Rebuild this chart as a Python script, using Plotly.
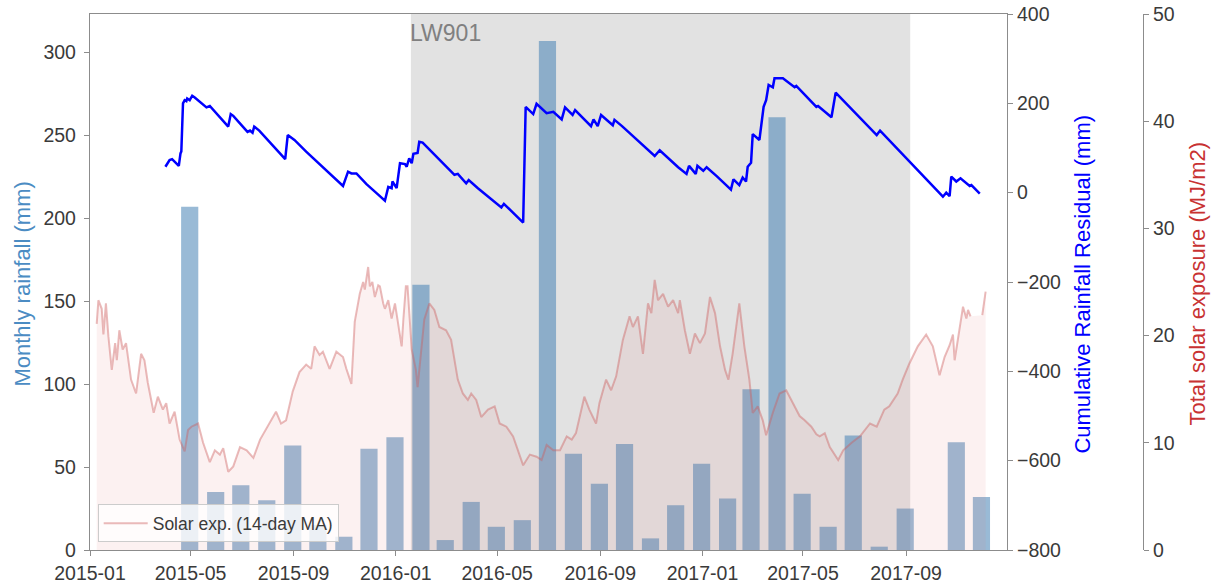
import plotly.graph_objects as go

# ---------------- data ----------------
rain_dates = [
    "2015-04-30", "2015-05-31", "2015-06-30", "2015-07-31", "2015-08-31", "2015-09-30",
    "2015-10-31", "2015-11-30", "2015-12-31", "2016-01-31", "2016-02-29", "2016-03-31",
    "2016-04-30", "2016-05-31", "2016-06-30", "2016-07-31", "2016-08-31", "2016-09-30",
    "2016-10-31", "2016-11-30", "2016-12-31", "2017-01-31", "2017-02-28", "2017-03-31",
    "2017-04-30", "2017-05-31", "2017-06-30", "2017-07-31", "2017-08-31", "2017-09-30",
    "2017-10-31", "2017-11-30",
]
rain_mm = [
    207, 35, 39, 30, 63, 15,
    8, 61, 68, 160, 6, 29,
    14, 18, 307, 58, 40, 64,
    7, 27, 52, 31, 97, 261,
    34, 14, 69, 2, 25, 0,
    65, 32,
]

resid_dates = [
    "2015-04-01", "2015-04-06", "2015-04-09", "2015-04-14", "2015-04-17", "2015-04-19",
    "2015-04-20", "2015-04-22", "2015-04-24", "2015-04-26", "2015-04-27", "2015-04-30",
    "2015-05-03", "2015-05-06", "2015-05-20", "2015-05-24", "2015-06-15", "2015-06-18",
    "2015-06-21", "2015-07-08", "2015-07-11", "2015-07-14", "2015-07-16", "2015-07-22",
    "2015-08-22", "2015-08-25", "2015-09-02", "2015-09-16", "2015-09-26", "2015-10-30",
    "2015-11-05", "2015-11-09", "2015-11-15", "2015-11-27", "2015-12-09", "2015-12-19",
    "2015-12-23", "2015-12-27", "2015-12-28", "2016-01-02", "2016-01-06", "2016-01-12",
    "2016-01-14", "2016-01-17", "2016-01-20", "2016-01-22", "2016-01-27", "2016-01-29",
    "2016-02-02", "2016-03-11", "2016-03-15", "2016-03-25", "2016-03-28", "2016-04-08",
    "2016-05-06", "2016-05-09", "2016-06-01", "2016-06-04", "2016-06-13", "2016-06-17",
    "2016-06-29", "2016-07-07", "2016-07-17", "2016-07-21", "2016-07-30", "2016-08-02",
    "2016-08-21", "2016-08-24", "2016-08-29", "2016-09-02", "2016-09-16", "2016-09-18",
    "2016-09-27", "2016-10-18", "2016-11-05", "2016-11-11", "2016-12-03", "2016-12-13",
    "2016-12-16", "2016-12-24", "2016-12-26", "2017-01-02", "2017-01-06", "2017-01-18",
    "2017-02-04", "2017-02-07", "2017-02-14", "2017-02-18", "2017-02-22", "2017-02-24",
    "2017-02-28", "2017-03-02", "2017-03-10", "2017-03-15", "2017-03-18", "2017-03-21",
    "2017-03-26", "2017-03-28", "2017-04-07", "2017-04-21", "2017-04-23", "2017-05-17",
    "2017-05-19", "2017-06-04", "2017-06-09", "2017-07-28", "2017-08-01", "2017-10-15",
    "2017-10-19", "2017-10-23", "2017-10-25", "2017-10-31", "2017-11-05", "2017-11-16",
    "2017-11-18", "2017-11-28",
]
resid_mm = [
    58, 73, 75, 64, 60, 88,
    92, 200, 207, 205, 211, 207,
    217, 213, 191, 194, 148, 176,
    172, 136, 139, 134, 148, 139,
    75, 129, 118, 92, 75, 15,
    47, 43, 43, 19, -1, -18,
    13, 10, 25, 10, 66, 64,
    58, 77, 66, 87, 89, 114,
    112, 40, 42, 21, 28, 10,
    -33, -25, -67, 192, 176, 199,
    178, 181, 164, 191, 174, 185,
    149, 164, 149, 174, 151, 163,
    149, 114, 82, 95, 57, 42,
    60, 42, 60, 49, 57, 37,
    7, 30, 17, 34, 25, 58,
    67, 131, 118, 192, 207, 241,
    236, 256, 256, 236, 239, 192,
    194, 169, 224, 129, 139, -9,
    0, -8, 36, 25, 32, 15,
    17, -2,
]

solar_dates = [
    "2015-01-09", "2015-01-11", "2015-01-15", "2015-01-17", "2015-01-20", "2015-01-23",
    "2015-01-27", "2015-01-31", "2015-02-02", "2015-02-05", "2015-02-09", "2015-02-13",
    "2015-02-19", "2015-02-25", "2015-03-03", "2015-03-07", "2015-03-11", "2015-03-18",
    "2015-03-23", "2015-03-29", "2015-04-02", "2015-04-06", "2015-04-12", "2015-04-18",
    "2015-04-24", "2015-04-28", "2015-05-02", "2015-05-10", "2015-05-16", "2015-05-24",
    "2015-05-30", "2015-06-05", "2015-06-09", "2015-06-15", "2015-06-21", "2015-06-29",
    "2015-07-07", "2015-07-15", "2015-07-23", "2015-08-03", "2015-08-11", "2015-08-17",
    "2015-08-23", "2015-08-31", "2015-09-08", "2015-09-16", "2015-09-22", "2015-09-26",
    "2015-10-02", "2015-10-06", "2015-10-14", "2015-10-22", "2015-10-30", "2015-11-03",
    "2015-11-09", "2015-11-13", "2015-11-19", "2015-11-23", "2015-11-25", "2015-11-29",
    "2015-12-01", "2015-12-04", "2015-12-07", "2015-12-11", "2015-12-13", "2015-12-17",
    "2015-12-19", "2015-12-23", "2015-12-27", "2015-12-31", "2016-01-04", "2016-01-08",
    "2016-01-10", "2016-01-13", "2016-01-15", "2016-01-20", "2016-01-25", "2016-01-27",
    "2016-02-04", "2016-02-10", "2016-02-16", "2016-02-22", "2016-03-01", "2016-03-07",
    "2016-03-15", "2016-03-21", "2016-03-27", "2016-03-31", "2016-04-06", "2016-04-12",
    "2016-04-20", "2016-04-28", "2016-05-04", "2016-05-12", "2016-05-20", "2016-05-26",
    "2016-06-01", "2016-06-09", "2016-06-17", "2016-06-23", "2016-06-29", "2016-07-07",
    "2016-07-15", "2016-07-23", "2016-07-29", "2016-08-03", "2016-08-09", "2016-08-13",
    "2016-08-19", "2016-08-27", "2016-08-31", "2016-09-08", "2016-09-14", "2016-09-20",
    "2016-09-28", "2016-10-06", "2016-10-10", "2016-10-16", "2016-10-22", "2016-10-28",
    "2016-11-01", "2016-11-05", "2016-11-09", "2016-11-15", "2016-11-21", "2016-11-27",
    "2016-12-03", "2016-12-05", "2016-12-11", "2016-12-17", "2016-12-23", "2016-12-29",
    "2017-01-04", "2017-01-10", "2017-01-16", "2017-01-22", "2017-01-28", "2017-02-01",
    "2017-02-06", "2017-02-10", "2017-02-14", "2017-02-20", "2017-02-26", "2017-03-02",
    "2017-03-08", "2017-03-14", "2017-03-18", "2017-03-26", "2017-04-03", "2017-04-11",
    "2017-04-19", "2017-04-27", "2017-05-03", "2017-05-11", "2017-05-17", "2017-05-21",
    "2017-05-27", "2017-06-02", "2017-06-12", "2017-06-18", "2017-06-28", "2017-07-08",
    "2017-07-20", "2017-07-28", "2017-08-06", "2017-08-12", "2017-08-22", "2017-08-28",
    "2017-09-05", "2017-09-15", "2017-09-25", "2017-10-03", "2017-10-11", "2017-10-17",
    "2017-10-23", "2017-10-27", "2017-10-29", "2017-11-04", "2017-11-08", "2017-11-12",
    "2017-11-14", "2017-11-17", "2017-11-24", "2017-12-01", "2017-12-05",
]
solar_mj = [
    21.1, 23.3, 22.5, 20.1, 23.0, 19.9,
    16.8, 19.3, 17.7, 20.5, 18.7, 19.3,
    15.9, 14.6, 18.3, 17.7, 15.6, 12.8,
    14.3, 13.1, 13.7, 11.8, 12.9, 10.3,
    9.2, 11.2, 11.5, 11.8, 10.0, 8.2,
    9.3, 8.9, 9.5, 7.3, 7.8, 9.6,
    9.3, 8.6, 10.3, 11.8, 12.9, 11.8,
    12.1, 14.8, 16.6, 17.3, 16.9, 19.0,
    18.2, 18.5, 16.9, 18.5, 18.0, 16.9,
    15.5, 21.3, 23.9, 25.0, 24.3, 26.4,
    24.6, 25.0, 23.6, 24.7, 24.6, 23.0,
    22.5, 23.3, 21.6, 23.0, 20.8, 19.0,
    21.5, 24.6, 24.6, 18.7, 16.8, 15.2,
    21.5, 23.0, 22.4, 20.8, 20.5, 19.6,
    15.9, 14.6, 14.0, 14.6, 14.0, 12.4,
    13.1, 13.4, 11.8, 11.5, 10.6, 9.3,
    7.9, 8.9, 8.7, 8.4, 9.8, 9.3,
    9.3, 10.6, 10.3, 10.9, 12.8, 14.3,
    13.1, 11.8, 13.7, 15.9, 14.9, 16.2,
    19.6, 21.8, 20.8, 21.8, 18.3, 23.0,
    22.1, 25.2, 23.3, 23.9, 22.7, 23.3,
    22.1, 23.3, 20.5, 18.3, 20.2, 19.3,
    20.2, 23.6, 22.1, 19.0, 16.8, 15.9,
    18.3, 20.5, 23.0, 19.0, 15.9, 12.8,
    13.4, 12.1, 10.7, 12.8, 14.6, 14.9,
    13.7, 12.5, 12.1, 11.5, 10.8, 10.6,
    10.9, 9.6, 8.4, 9.3, 10.0, 10.6,
    11.8, 11.5, 13.1, 13.4, 14.6, 15.9,
    17.4, 19.0, 20.1, 19.0, 16.3, 18.0,
    19.1, 20.1, 17.7, 20.8, 22.7, 21.6,
    22.4, 21.8, None, 21.9, 24.1,
]

left_ticks = [0, 50, 100, 150, 200, 250, 300]
resid_ticks = [-800, -600, -400, -200, 0, 200, 400]
solar_ticks = [0, 10, 20, 30, 40, 50]
x_ticks = ["2015-01-01", "2015-05-01", "2015-09-01", "2016-01-01", "2016-05-01",
           "2016-09-01", "2017-01-01", "2017-05-01", "2017-09-01"]

panel_name = "LW901"
panel_start = "2016-01-19"
panel_end = "2017-09-06"

title_left = "Monthly rainfall (mm)"
title_resid = "Cumulative Rainfall Residual (mm)"
title_solar = "Total solar exposure (MJ/m2)"
legend_label = "Solar exp. (14-day MA)"

# ---------------- styling ----------------
FONT = "Liberation Sans, Arial, sans-serif"
TICK_COL = "#3a3a3a"
SPINE = "rgb(140,140,140)"
C_LEFT = "rgb(75,140,195)"
C_RES = "rgb(0,0,255)"
C_SOL = "rgb(200,50,50)"
TICK_SIZE = 19.5

fig = go.Figure()

fig.add_trace(go.Bar(
    x=rain_dates, y=rain_mm, yaxis="y",
    width=20.5 * 86400000,
    marker=dict(color="rgba(70,130,180,0.55)", line=dict(width=0)),
    showlegend=False,
))

fig.add_trace(go.Scatter(
    x=resid_dates, y=resid_mm, yaxis="y2", mode="lines",
    line=dict(color=C_RES, width=2.5),
    showlegend=False,
))

fig.add_trace(go.Scatter(
    x=solar_dates, y=solar_mj, yaxis="y3", mode="lines",
    fill="tozeroy", fillcolor="rgba(230,120,120,0.10)",
    line=dict(width=0), connectgaps=False,
    showlegend=False, hoverinfo="skip",
))
fig.add_trace(go.Scatter(
    x=solar_dates, y=solar_mj, yaxis="y3", mode="lines",
    line=dict(color="rgba(205,92,92,0.42)", width=2),
    connectgaps=False,
    name=legend_label, showlegend=True,
))

axis_common = dict(
    showgrid=False, zeroline=False, showline=True, linecolor=SPINE, linewidth=1.25,
    ticks="outside", ticklen=5, tickcolor=SPINE, automargin=False,
    ticklabeloverflow="allow",
    tickfont=dict(family=FONT, size=TICK_SIZE, color=TICK_COL),
)

fig.update_layout(
    width=1215, height=584,
    margin=dict(l=90, r=40, t=14, b=34),
    paper_bgcolor="white", plot_bgcolor="white",
    font=dict(family=FONT, color=TICK_COL),
    xaxis=dict(
        domain=[0, 0.84516],
        range=["2015-01-01", "2017-12-30 12:00"],
        type="date",
        tickvals=x_ticks, tickformat="%Y-%m",
        mirror=True,
        **axis_common,
    ),
    yaxis=dict(
        range=[0, 323.3], tickvals=left_ticks, ticklabelstandoff=4,
        **axis_common,
    ),
    yaxis2=dict(
        overlaying="y", side="right", anchor="x",
        range=[-800, 400], tickvals=resid_ticks,
        **axis_common,
    ),
    yaxis3=dict(
        overlaying="y", side="right", anchor="free", position=0.97051,
        range=[0, 50], tickvals=solar_ticks,
        **axis_common,
    ),
    legend=dict(
        x=0.0071, y=0.0144, xanchor="left", yanchor="bottom",
        bgcolor="rgba(255,255,255,0.8)", bordercolor="rgb(204,204,204)", borderwidth=1,
        itemwidth=44,
        font=dict(family=FONT, size=17.5, color=TICK_COL),
    ),
    shapes=[dict(
        type="rect", xref="x", yref="paper",
        x0=panel_start, x1=panel_end, y0=0, y1=1,
        fillcolor="rgb(226,226,226)", line=dict(width=0), layer="below",
    )],
    annotations=[
        dict(text=panel_name, x=panel_start, xref="x", y=0.9646, yref="paper",
             xanchor="left", yanchor="middle", showarrow=False, xshift=-3,
             font=dict(family=FONT, size=23, color="rgb(128,128,128)")),
        dict(text=title_left, x=-0.0618, xref="paper", y=0.497, yref="paper",
             xanchor="center", yanchor="middle", showarrow=False, textangle=-90,
             font=dict(family=FONT, size=22, color=C_LEFT)),
        dict(text=title_resid, x=0.9152, xref="paper", y=0.497, yref="paper",
             xanchor="center", yanchor="middle", showarrow=False, textangle=-90,
             font=dict(family=FONT, size=22, color=C_RES)),
        dict(text=title_solar, x=1.0212, xref="paper", y=0.497, yref="paper",
             xanchor="center", yanchor="middle", showarrow=False, textangle=-90,
             font=dict(family=FONT, size=22, color=C_SOL)),
    ],
)

# remove the default 8px page margin so the figure sits at the window origin
fig.write_html(
    "out.html",
    config={"displayModeBar": False},
    post_script="document.body.style.margin='0';",
)
